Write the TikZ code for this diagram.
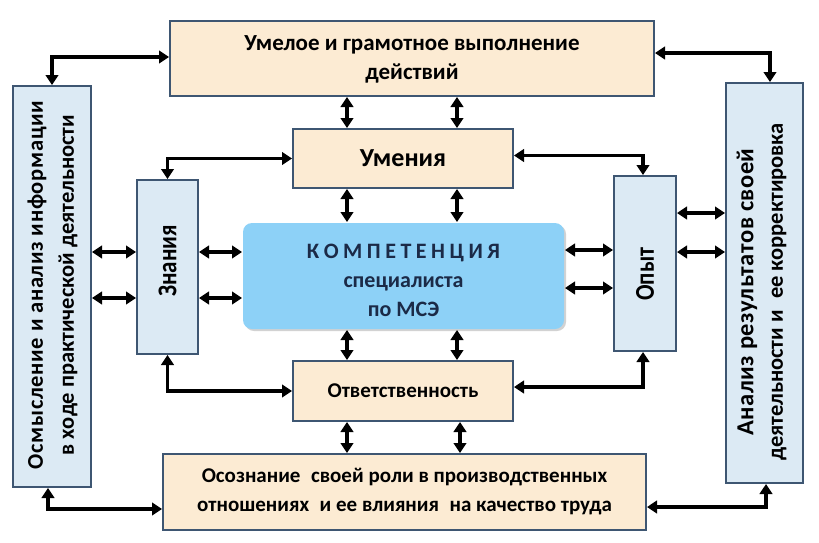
\documentclass[tikz,border=0pt]{standalone}
\usepackage{fontspec}
\setmainfont{Carlito}
\usetikzlibrary{arrows.meta,shadows}
\definecolor{bord}{HTML}{3E5672}
\definecolor{beige}{HTML}{FCEBD3}
\definecolor{lblue}{HTML}{DCEAF4}
\definecolor{cblue}{HTML}{8DD1F7}
\definecolor{navy}{HTML}{1B2A47}
\tikzset{
  bbox/.style={draw=bord, line width=2pt, inner sep=0pt},
  warm/.style={bbox, fill=beige},
  cool/.style={bbox, fill=lblue},
  txt/.style={align=center, font=\bfseries\fontsize{21}{29}\selectfont, inner sep=0pt},
  big/.style={align=center, font=\bfseries\fontsize{26}{30}\selectfont, inner sep=0pt},
  vert/.style={align=center, font=\bfseries\fontsize{23}{30}\selectfont, inner sep=0pt, rotate=90, yscale=1.18},
  dbl/.style={line width=3.6pt, {Triangle[length=10pt,width=12.5pt]}-{Triangle[length=10pt,width=12.5pt]}},
}
\begin{document}
\begin{tikzpicture}[x=1pt,y=-1pt]
\useasboundingbox[fill=white] (0,0) rectangle (819,542);
% boxes
\node[warm, minimum width=484pt, minimum height=75pt] (top) at (412,58.5) {};
\node[cool, minimum width=78pt, minimum height=401pt] (left) at (52,286.5) {};
\node[cool, minimum width=77pt, minimum height=400pt] (right) at (764.5,283) {};
\node[warm, minimum width=220pt, minimum height=59pt] (umen) at (403,158.5) {};
\node[cool, minimum width=61pt, minimum height=174pt] (znan) at (167.5,267) {};
\node[cool, minimum width=62pt, minimum height=175pt] (opyt) at (645,263.5) {};
\node[bbox, draw=none, fill=cblue, rounded corners=9pt, minimum width=321pt, minimum height=106pt,
      drop shadow={opacity=0.35, shadow xshift=2pt, shadow yshift=-2pt}] (comp) at (403.5,276) {};
\node[warm, minimum width=220pt, minimum height=60pt] (otv) at (403,391) {};
\node[warm, minimum width=483pt, minimum height=76pt] (bot) at (404.5,492) {};
% text positions
\coordinate (pznan) at (167.5,261);
\coordinate (popyt) at (645,274);
\coordinate (pleft) at (52.5,285);
\coordinate (pright) at (761.5,292);
% texts
\node[txt, font=\bfseries\fontsize{23}{29}\selectfont] (toptxt) at ([yshift=-1pt]top.center) {Умелое и грамотное выполнение\\действий};
\node[big] (umentxt) at (umen) {Умения};
\node[vert] (znantxt) at (pznan) {Знания};
\node[vert] (opyttxt) at (popyt) {Опыт};
\node[txt] (otvtxt) at (otv) {Ответственность};
\node[txt] (bottxt) at (bot) {Осознание\enspace своей роли в производственных\\отношениях\enspace и ее влияния\enspace на качество труда};
\node[txt, rotate=90, font=\bfseries\fontsize{22.5}{31}\selectfont] (lefttxt) at (pleft)
  {{\addfontfeature{LetterSpace=3}Осмысление и анализ информации}\\в ходе практической деятельности};
\node[txt, rotate=90, font=\bfseries\fontsize{22.5}{29.5}\selectfont] (righttxt) at (pright)
  {{\fontsize{24.5}{29.5}\selectfont\addfontfeature{LetterSpace=2}Анализ результатов своей}\\деятельности и\enspace ее корректировка};
\node[txt, text=navy, font=\bfseries\fontsize{22}{29}\selectfont] (comptxt) at ([yshift=-4pt]comp.center)
  {{\spaceskip=4.5pt К О М П Е Т Е Н Ц И Я}\\специалиста\\по МСЭ};
% helper coordinates
\coordinate (va) at (347,0);
\coordinate (vb) at (457,0);
\coordinate (vc) at (460,0);
\coordinate (ha) at (0,252);
\coordinate (hb) at (0,298);
\coordinate (hc) at (0,250);
\coordinate (hd) at (0,288);
\coordinate (he) at (0,213);
% L connectors
\draw[dbl] ([yshift=1.5pt]top.west) -| (left.north);
\draw[dbl] ([yshift=5.5pt]top.east) -| ([xshift=5.5pt]right.north);
\draw[dbl] (umen.west) -| (znan.north);
\draw[dbl] ([yshift=3pt]umen.east) -| ([xshift=-2pt]opyt.north);
\draw[dbl] (znan.south) |- (otv.west);
\draw[dbl] ([yshift=4pt]otv.east) -| ([xshift=-2pt]opyt.south);
\draw[dbl] ([xshift=-4pt]left.south) |- ([yshift=-17pt]bot.west);
\draw[dbl] ([yshift=-15pt]bot.east) -| ([xshift=1.5pt]right.south);
% vertical double arrows
\draw[dbl] (top.south -| va) -- (umen.north -| va);
\draw[dbl] (top.south -| vb) -- (umen.north -| vb);
\draw[dbl] (umen.south -| va) -- (comp.north -| va);
\draw[dbl] (umen.south -| vb) -- (comp.north -| vb);
\draw[dbl] (comp.south -| va) -- (otv.north -| va);
\draw[dbl] (comp.south -| vb) -- (otv.north -| vb);
\draw[dbl] (otv.south -| va) -- (bot.north -| va);
\draw[dbl] (otv.south -| vc) -- (bot.north -| vc);
% horizontal double arrows
\draw[dbl] (left.east |- ha) -- (znan.west |- ha);
\draw[dbl] (left.east |- hb) -- (znan.west |- hb);
\draw[dbl] (znan.east |- ha) -- (comp.west |- ha);
\draw[dbl] (znan.east |- hb) -- (comp.west |- hb);
\draw[dbl] (comp.east |- hc) -- (opyt.west |- hc);
\draw[dbl] (comp.east |- hd) -- (opyt.west |- hd);
\draw[dbl] (opyt.east |- he) -- (right.west |- he);
\draw[dbl] (opyt.east |- ha) -- (right.west |- ha);
\end{tikzpicture}
\end{document}
